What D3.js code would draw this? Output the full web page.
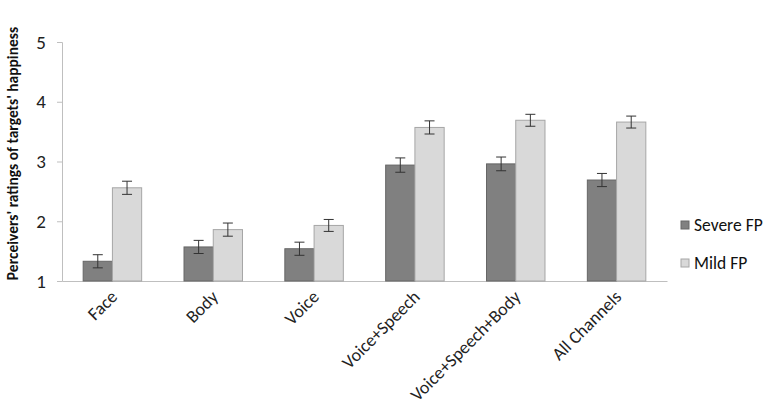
<!DOCTYPE html>
<html>
<head>
<meta charset="utf-8">
<script src="https://cdn.jsdelivr.net/npm/d3@7"></script>
<style>
  body { margin: 0; background: #fff; }
  text { font-family: Carlito, "Open Sans", sans-serif; }
</style>
</head>
<body>
<div id="chart"></div>
<script>
const categories = ['Face', 'Body', 'Voice', 'Voice+Speech', 'Voice+Speech+Body', 'All Channels']
const seriesNames = ['Severe FP', 'Mild FP']
const severe = [1.33, 1.57, 1.54, 2.94, 2.96, 2.69]
const severeErr = [0.11, 0.11, 0.11, 0.12, 0.115, 0.11]
const mild = [2.56, 1.86, 1.93, 3.57, 3.69, 3.66]
const mildErr = [0.11, 0.11, 0.1, 0.11, 0.1, 0.1]
const yTicks = [1, 2, 3, 4, 5]

const width = 767
const height = 416
const margin = { left: 62, right: 100, top: 42, bottom: 135 }

const svg = d3.select('#chart').append('svg')
  .attr('width', width)
  .attr('height', height)

const x = d3.scaleBand()
  .domain(categories)
  .range([margin.left, width - margin.right])
  .paddingInner(0.42)
  .paddingOuter(0.21)

const x1 = d3.scaleBand()
  .domain(seriesNames)
  .range([0, x.bandwidth()])

const y = d3.scaleLinear()
  .domain([1, 5])
  .range([height - margin.bottom, margin.top])

const colors = { 'Severe FP': '#808080', 'Mild FP': '#d9d9d9' }
const strokes = { 'Severe FP': '#666666', 'Mild FP': '#a6a6a6' }

// y axis
const yAxis = svg.append('g')
  .attr('transform', `translate(${margin.left},0)`)
  .call(d3.axisLeft(y).tickValues(yTicks).tickSize(5).tickPadding(11).tickFormat(d3.format('d')))
yAxis.selectAll('line, path').attr('stroke', '#bfbfbf')
yAxis.selectAll('text').attr('font-size', 19).attr('fill', '#222')

// x axis
const xAxis = svg.append('g')
  .attr('transform', `translate(0,${y(1)})`)
  .call(d3.axisBottom(x).tickSize(0).tickPadding(0))
xAxis.select('path').attr('stroke', '#bfbfbf')
xAxis.selectAll('text')
  .attr('font-size', 18)
  .attr('fill', '#222')
  .attr('text-anchor', 'end')
  .attr('dy', 0)
  .attr('transform', 'translate(6,17) rotate(-45)')

const rows = categories.map((c, i) => ({
  cat: c,
  vals: [
    { s: 'Severe FP', v: severe[i], e: severeErr[i] },
    { s: 'Mild FP', v: mild[i], e: mildErr[i] }
  ]
}))

const groups = svg.selectAll('g.cat')
  .data(rows)
  .enter()
  .append('g')
  .attr('class', 'cat')
  .attr('transform', d => `translate(${x(d.cat)},0)`)

groups.selectAll('rect')
  .data(d => d.vals)
  .enter()
  .append('rect')
  .attr('x', d => x1(d.s))
  .attr('y', d => y(d.v))
  .attr('width', x1.bandwidth())
  .attr('height', d => y(1) - y(d.v))
  .attr('fill', d => colors[d.s])
  .attr('stroke', d => strokes[d.s])
  .attr('stroke-width', 1)

// error bars
const eb = groups.selectAll('g.err')
  .data(d => d.vals)
  .enter()
  .append('g')
  .attr('class', 'err')
  .attr('stroke', '#333')
  .attr('stroke-width', 1)
eb.append('line')
  .attr('x1', d => x1(d.s) + x1.bandwidth() / 2)
  .attr('x2', d => x1(d.s) + x1.bandwidth() / 2)
  .attr('y1', d => y(d.v + d.e))
  .attr('y2', d => y(d.v - d.e))
eb.selectAll('line.cap')
  .data(d => [{ d: d, v: d.v + d.e }, { d: d, v: d.v - d.e }])
  .enter()
  .append('line')
  .attr('class', 'cap')
  .attr('x1', c => x1(c.d.s) + x1.bandwidth() / 2 - 5)
  .attr('x2', c => x1(c.d.s) + x1.bandwidth() / 2 + 5)
  .attr('y1', c => y(c.v))
  .attr('y2', c => y(c.v))

// y title
svg.append('text')
  .attr('transform', `translate(18,${(y(1) + y(5)) / 2 - 8}) rotate(-90)`)
  .attr('text-anchor', 'middle')
  .attr('font-size', 15.5)
  .attr('font-weight', 'bold')
  .attr('fill', '#111')
  .text("Perceivers' ratings of targets' happiness")

// legend
const legend = svg.selectAll('g.legend')
  .data(seriesNames)
  .enter()
  .append('g')
  .attr('class', 'legend')
  .attr('transform', (d, i) => `translate(681,${221 + i * 38})`)
legend.append('rect')
  .attr('width', 8)
  .attr('height', 8)
  .attr('fill', d => colors[d])
  .attr('stroke', d => strokes[d])
legend.append('text')
  .attr('x', 13)
  .attr('y', 10)
  .attr('font-size', 17.5)
  .attr('fill', '#111')
  .text(d => d)
</script>
</body>
</html>
